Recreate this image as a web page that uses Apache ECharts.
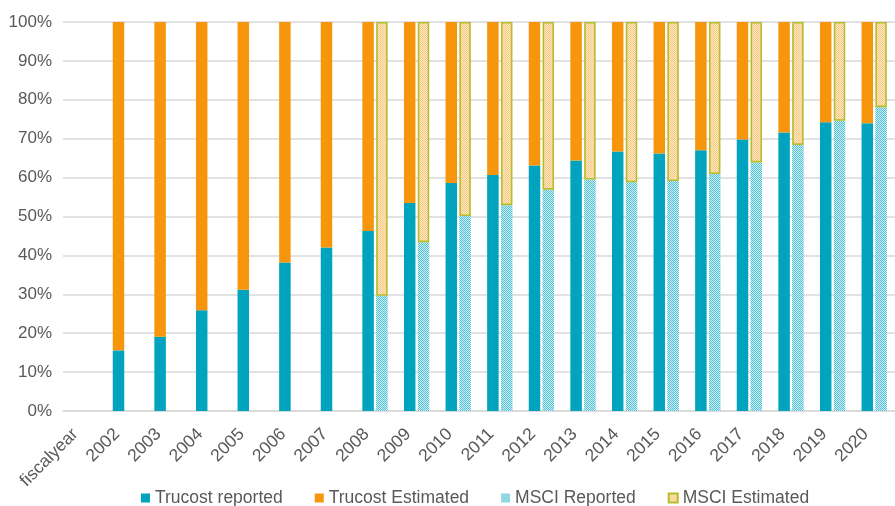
<!DOCTYPE html>
<html>
<head>
<meta charset="utf-8">
<script src="https://cdn.jsdelivr.net/npm/echarts@6/dist/echarts.min.js"></script>
<style>
html,body{margin:0;padding:0;background:#fff;}
#chart{width:895px;height:506px;}
</style>
</head>
<body>
<div id="chart"></div>
<script>
var categories = ['fiscalyear','2002','2003','2004','2005','2006','2007','2008','2009','2010','2011','2012','2013','2014','2015','2016','2017','2018','2019','2020'];
var trucostReported  = [null,15.6,19.1,25.9,31.2,38.2,42.0,46.3,53.5,58.6,60.7,63.1,64.4,66.7,66.2,67.0,69.8,71.6,74.2,74.0];
var trucostEstimated = [null,84.4,80.9,74.1,68.8,61.8,58.0,53.7,46.5,41.4,39.3,36.9,35.6,33.3,33.8,33.0,30.2,28.4,25.8,26.0];
var msciReported     = [null,null,null,null,null,null,null,29.6,43.4,50.1,52.9,56.9,59.5,58.8,59.1,60.9,63.9,68.4,74.6,78.1];
var msciEstimated    = [null,null,null,null,null,null,null,70.4,56.6,49.9,47.1,43.1,40.5,41.2,40.9,39.1,36.1,31.6,25.4,21.9];
var yTicks = [0,10,20,30,40,50,60,70,80,90,100];

function checker(c1, c2) {
  var cv = document.createElement('canvas');
  cv.width = 2; cv.height = 2;
  var ctx = cv.getContext('2d');
  ctx.fillStyle = c2; ctx.fillRect(0,0,2,2);
  ctx.fillStyle = c1; ctx.fillRect(0,0,1,1); ctx.fillRect(1,1,1,1);
  return {image: cv, repeat: 'repeat'};
}

var font = 'Arial, "Liberation Sans", sans-serif';
var chart = echarts.init(document.getElementById('chart'), null, {renderer: 'canvas'});
chart.setOption({
  animation: false,
  grid: {left: 63, right: 0, top: 22, bottom: 95, containLabel: false},
  legend: {
    top: 484, left: 136,
    itemWidth: 9, itemHeight: 9, itemGap: 32,
    icon: 'rect',
    textStyle: {fontSize: 17.5, color: '#595959', fontFamily: font},
    data: ['Trucost reported','Trucost Estimated','MSCI Reported','MSCI Estimated']
  },
  xAxis: {
    type: 'category',
    data: categories,
    axisLine: {lineStyle: {color: '#d9d9d9', width: 1.5}},
    axisTick: {show: false},
    axisLabel: {interval: 0, rotate: 45, margin: 12, padding: [0, 12, 0, 0], fontSize: 17.5, color: '#595959', fontFamily: font}
  },
  yAxis: {
    type: 'value',
    min: yTicks[0], max: yTicks[yTicks.length - 1], interval: 10,
    axisLine: {show: false},
    axisTick: {show: false},
    splitLine: {lineStyle: {color: '#d9d9d9', width: 1.5}},
    axisLabel: {formatter: '{value}%', margin: 11, fontSize: 17, color: '#595959', fontFamily: font}
  },
  series: [
    {name: 'Trucost reported', type: 'bar', stack: 'trucost', data: trucostReported,
     barWidth: 11.5, barGap: '20%', itemStyle: {color: '#01a3be'}},
    {name: 'Trucost Estimated', type: 'bar', stack: 'trucost', data: trucostEstimated,
     barWidth: 11.5, barGap: '20%', itemStyle: {color: '#f7960d'}},
    {name: 'MSCI Reported', type: 'bar', stack: 'msci', data: msciReported,
     barWidth: 11.5, barGap: '20%', itemStyle: {color: checker('#4fbfd4', '#d2eff5')}},
    {name: 'MSCI Estimated', type: 'bar', stack: 'msci', data: msciEstimated,
     barWidth: 11.5, barGap: '20%', itemStyle: {color: checker('#fbc577', '#fdebd0'), borderColor: '#b5bd2a', borderWidth: 1.6}}
  ]
});
</script>
</body>
</html>
